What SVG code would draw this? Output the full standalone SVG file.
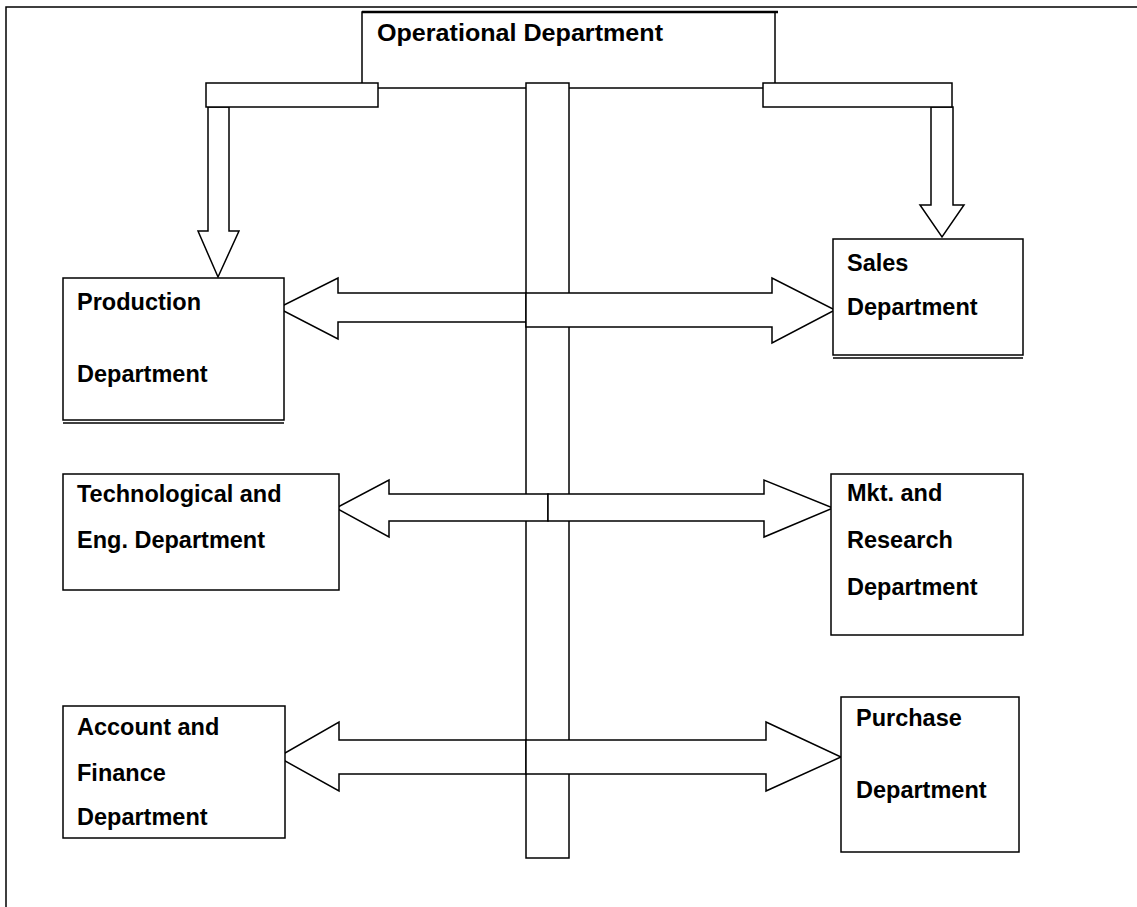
<svg xmlns="http://www.w3.org/2000/svg" width="1137" height="907" viewBox="0 0 1137 907">
<style>
.s{fill:#fff;stroke:#000;stroke-width:1.5}
.t{font-family:"Liberation Sans",Arial,sans-serif;font-weight:bold;font-size:23.5px;fill:#000}
.ln{fill:none;stroke:#000;stroke-width:1.5}
</style>
<rect width="1137" height="907" fill="#fff"/>
<path class="ln" d="M6,907 V7 H1137"/>
<g id="operational">
<rect class="s" x="362" y="12" width="413" height="76"/>
<line x1="362" y1="12" x2="778" y2="12" stroke="#000" stroke-width="2.5"/>
<text class="t" x="377" y="41" textLength="286" lengthAdjust="spacingAndGlyphs">Operational Department</text>
</g>
<g id="connectors">
<rect class="s" x="526" y="83" width="43" height="775"/>
<polygon class="s" points="208,107 208,231 198,231 218,277 239,231 229,231 229,107"/>
<rect class="s" x="206" y="83" width="172" height="24"/>
<polygon class="s" points="931,107 931,205 920,205 942,237 964,205 953,205 953,107"/>
<rect class="s" x="763" y="83" width="189" height="24"/>
<polygon class="s" points="526,293 338,293 338,278 278,308 338,339 338,322 526,322"/>
<polygon class="s" points="526,293 772,293 772,278 835,310 772,343 772,327 526,327"/>
<polygon class="s" points="548,494 389,494 389,480 336,508 389,537 389,521 548,521"/>
<polygon class="s" points="548,494 764,494 764,480 833,508 764,537 764,521 548,521"/>
<polygon class="s" points="526,740 339,740 339,722 278,757 339,791 339,774 526,774"/>
<polygon class="s" points="526,740 766,740 766,722 841,757 766,791 766,774 526,774"/>
</g>
<g id="production">
<rect class="s" x="63" y="278" width="221" height="142"/>
<line class="ln" x1="63" y1="423" x2="284" y2="423"/>
<text class="t" x="77" y="310">Production</text>
<text class="t" x="77" y="382">Department</text>
</g>
<g id="sales">
<rect class="s" x="833" y="239" width="190" height="116"/>
<line class="ln" x1="833" y1="358" x2="1023" y2="358"/>
<text class="t" x="847" y="271">Sales</text>
<text class="t" x="847" y="315">Department</text>
</g>
<g id="tech">
<rect class="s" x="63" y="474" width="276" height="116"/>
<text class="t" x="77" y="502">Technological and</text>
<text class="t" x="77" y="548">Eng. Department</text>
</g>
<g id="mkt">
<rect class="s" x="831" y="474" width="192" height="161"/>
<text class="t" x="847" y="501">Mkt. and</text>
<text class="t" x="847" y="548">Research</text>
<text class="t" x="847" y="595">Department</text>
</g>
<g id="account">
<rect class="s" x="63" y="706" width="222" height="132"/>
<text class="t" x="77" y="735">Account and</text>
<text class="t" x="77" y="781">Finance</text>
<text class="t" x="77" y="825">Department</text>
</g>
<g id="purchase">
<rect class="s" x="841" y="697" width="178" height="155"/>
<text class="t" x="856" y="726">Purchase</text>
<text class="t" x="856" y="798">Department</text>
</g>
</svg>
